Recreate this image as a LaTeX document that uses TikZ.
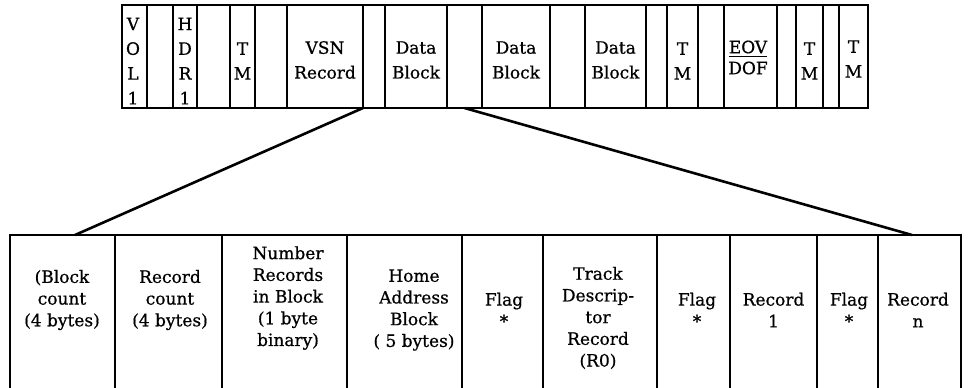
\documentclass[tikz,border=0pt]{standalone}
\usepackage{fontspec}
\setmainfont{DejaVu Serif}[FakeBold=0.7]
\begin{document}
\begin{tikzpicture}[x=0.5pt, y=-0.5pt]
	\tikzset{cell/.style={rectangle, draw=black, line width=1pt, inner sep=0pt, outer sep=0pt, minimum height=51.5pt}};
	\tikzset{field/.style={rectangle, draw=black, line width=0.8pt, inner sep=0pt, outer sep=0pt, minimum height=78.5pt}};
	\tikzset{tape/.style={align=center, inner sep=0pt, font=\fontsize{8.5}{12.4}\selectfont}};
	\tikzset{txt/.style={align=center, inner sep=0pt, font=\fontsize{8.5}{10.85}\selectfont}};
	\tikzset{fan/.style={line width=1.3pt}};

	\clip (0,0) rectangle (969,387);

	% tape layout
	\node[cell, minimum width=12.5pt] (vol) at (134.5, 56.5) {};
	\node[cell, minimum width=13pt] (g1) at (160, 56.5) {};
	\node[cell, minimum width=12pt] (hdr) at (185, 56.5) {};
	\node[cell, minimum width=16.5pt] (g2) at (213.5, 56.5) {};
	\node[cell, minimum width=12.5pt] (tm1) at (242.5, 56.5) {};
	\node[cell, minimum width=16pt] (g3) at (271, 56.5) {};
	\node[cell, minimum width=38pt] (vsn) at (325, 56.5) {};
	\node[cell, minimum width=11pt] (g4) at (374, 56.5) {};
	\node[cell, minimum width=31pt] (db1) at (416, 56.5) {};
	\node[cell, minimum width=17.5pt] (g5) at (464.5, 56.5) {};
	\node[cell, minimum width=34pt] (db2) at (516, 56.5) {};
	\node[cell, minimum width=17.5pt] (g6) at (567.5, 56.5) {};
	\node[cell, minimum width=30.5pt] (db3) at (615.5, 56.5) {};
	\node[cell, minimum width=10.5pt] (g7) at (656.5, 56.5) {};
	\node[cell, minimum width=15.5pt] (tm2) at (682.5, 56.5) {};
	\node[cell, minimum width=13pt] (g8) at (711, 56.5) {};
	\node[cell, minimum width=26.5pt] (eov) at (750.5, 56.5) {};
	\node[cell, minimum width=9.5pt] (g9) at (786.5, 56.5) {};
	\node[cell, minimum width=13.5pt] (tm3) at (809.5, 56.5) {};
	\node[cell, minimum width=8pt] (g10) at (831, 56.5) {};
	\node[cell, minimum width=14.5pt] (tm4) at (853.5, 56.5) {};

	\node[tape] (volt) at (133, 61) {V\\O\\L\\1};
	\node[tape] (hdrt) at (185, 61) {H\\D\\R\\1};
	\node[tape] (tm1t) at (242.5, 61) {T\\M};
	\node[tape] (vsnt) at (325, 60) {VSN\\Record};
	\node[tape] (db1t) at (416, 60) {Data\\Block};
	\node[tape] (db2t) at (516, 60) {Data\\Block};
	\node[tape] (db3t) at (615.5, 60) {Data\\Block};
	\node[tape] (tm2t) at (682.5, 61) {T\\M};
	\node[tape, font=\fontsize{8.5}{10.5}\selectfont] (eovt) at (748, 57.5) {\underline{EOV}\\DOF};
	\node[tape] (tm3t) at (809.5, 61) {T\\M};
	\node[tape] (tm4t) at (853.5, 59) {T\\M};

	% block layout
	\node[field, minimum width=52.5pt] (bc) at (62.5, 313.5) {};
	\node[field, minimum width=53.5pt] (rc) at (168.5, 313.5) {};
	\node[field, minimum width=62.5pt] (nr) at (284.5, 313.5) {};
	\node[field, minimum width=57.5pt] (ha) at (404.5, 313.5) {};
	\node[field, minimum width=40.5pt] (f1) at (502.5, 313.5) {};
	\node[field, minimum width=57pt] (td) at (600, 313.5) {};
	\node[field, minimum width=36.5pt] (f2) at (693.5, 313.5) {};
	\node[field, minimum width=43.5pt] (r1) at (773.5, 313.5) {};
	\node[field, minimum width=30.5pt] (f3) at (847.5, 313.5) {};
	\node[field, minimum width=41.5pt] (rn) at (919.5, 313.5) {};

	\node[txt] (bct) at (62, 300) {(Block\\count\\(4 bytes)};
	\node[txt] (rct) at (170, 300) {Record\\count\\(4 bytes)};
	\node[txt] (nrt) at (288, 298) {Number\\Records\\in Block\\(1 byte\\binary)};
	\node[txt] (hat) at (414, 310) {Home\\Address\\Block\\( 5 bytes)};
	\node[txt] (f1t) at (504, 310) {Flag\\*};
	\node[txt] (tdt) at (598, 318) {Track\\Descrip-\\tor\\Record\\(R0)};
	\node[txt] (f2t) at (697, 310) {Flag\\*};
	\node[txt] (r1t) at (773.5, 310) {Record\\1};
	\node[txt] (f3t) at (849, 310) {Flag\\*};
	\node[txt] (rnt) at (918, 310) {Record\\n};

	\draw[fan] (g4.south west) to ([xshift=6.25pt]bc.north);
	\draw[fan] (g5.south) to ([xshift=-3.75pt]rn.north);

\end{tikzpicture}
\end{document}
